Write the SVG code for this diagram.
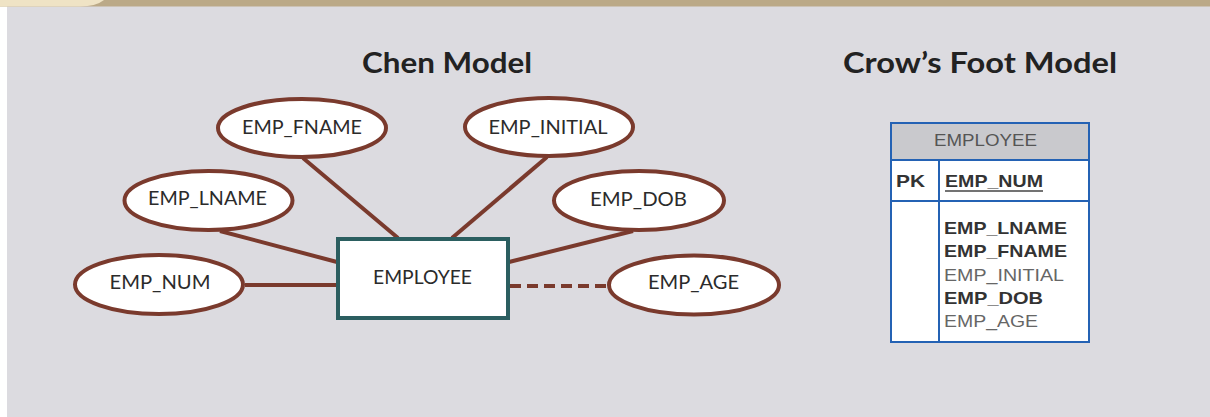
<svg xmlns="http://www.w3.org/2000/svg" width="1210" height="417" viewBox="0 0 1210 417">
<style>
.attr{fill:#fff;stroke:#7a3a2d;stroke-width:4}
.lbl{font-family:Lato,"Open Sans",sans-serif;font-size:19px;fill:#2b2b2b;text-anchor:middle}
.title{font-family:Lato,"Open Sans",sans-serif;font-size:29px;font-weight:bold;fill:#222;text-anchor:middle}
.conn{stroke:#7a3a2d;stroke-width:4;fill:none}
.tb{stroke:#2462b4;stroke-width:2;fill:none}
.cf{font-family:"Liberation Sans",Arial,sans-serif;font-size:17px}
.b{font-weight:bold;fill:#333}
.r{fill:#666}
</style>
<rect x="0" y="0" width="1210" height="417" fill="#ffffff"/>
<rect x="7" y="6" width="1203" height="411" fill="#dcdbe0"/>
<rect x="0" y="0" width="1210" height="6.5" fill="#bba987"/>
<path d="M0,0 H104 Q96,6.5 80,6.5 H0 Z" fill="#efe3c5"/>

<text class="title" x="447" y="73" textLength="170" lengthAdjust="spacingAndGlyphs">Chen Model</text>
<text class="title" x="980" y="73" textLength="274" lengthAdjust="spacingAndGlyphs">Crow’s Foot Model</text>

<g id="connectors">
<line class="conn" x1="303" y1="158" x2="398" y2="238"/>
<line class="conn" x1="547" y1="157" x2="452" y2="238"/>
<line class="conn" x1="220" y1="231" x2="337" y2="262"/>
<line class="conn" x1="245" y1="285" x2="337" y2="285"/>
<line class="conn" x1="633" y1="231" x2="509" y2="262"/>
<line class="conn" x1="510" y1="286" x2="608" y2="286" stroke-dasharray="11 6"/>
</g>

<g id="EMP_FNAME"><ellipse class="attr" cx="302" cy="128" rx="84" ry="29"/><text class="lbl" x="302" y="134" textLength="120" lengthAdjust="spacingAndGlyphs">EMP_FNAME</text></g>
<g id="EMP_INITIAL"><ellipse class="attr" cx="549" cy="127" rx="84" ry="29"/><text class="lbl" x="548" y="134" textLength="119" lengthAdjust="spacingAndGlyphs">EMP_INITIAL</text></g>
<g id="EMP_LNAME"><ellipse class="attr" cx="208.5" cy="200.5" rx="84" ry="29.5"/><text class="lbl" x="207.5" y="205" textLength="119" lengthAdjust="spacingAndGlyphs">EMP_LNAME</text></g>
<g id="EMP_DOB"><ellipse class="attr" cx="639" cy="200.5" rx="85" ry="29.5"/><text class="lbl" x="638.5" y="206" textLength="97" lengthAdjust="spacingAndGlyphs">EMP_DOB</text></g>
<g id="EMP_NUM"><ellipse class="attr" cx="159" cy="284.5" rx="84" ry="29.5"/><text class="lbl" x="160" y="289" textLength="101" lengthAdjust="spacingAndGlyphs">EMP_NUM</text></g>
<g id="EMP_AGE"><ellipse class="attr" cx="694" cy="285" rx="85" ry="29.5"/><text class="lbl" x="693.5" y="289" textLength="91" lengthAdjust="spacingAndGlyphs">EMP_AGE</text></g>

<g id="EMPLOYEE"><rect x="338" y="239" width="170" height="79" fill="#fff" stroke="#2b5e60" stroke-width="4"/><text class="lbl" x="422.5" y="284" textLength="99" lengthAdjust="spacingAndGlyphs">EMPLOYEE</text></g>

<g id="crowsfoot_EMPLOYEE">
<rect x="891" y="123" width="198" height="37" fill="#c9c9cd"/>
<rect x="891" y="160" width="198" height="183" fill="#fff"/>
<rect class="tb" x="891" y="123" width="198" height="219"/>
<line class="tb" x1="891" y1="160" x2="1089" y2="160"/>
<line class="tb" x1="891" y1="201" x2="1089" y2="201"/>
<line class="tb" x1="939" y1="160" x2="939" y2="342"/>
<text class="cf" x="934" y="146" fill="#555" textLength="103" lengthAdjust="spacingAndGlyphs">EMPLOYEE</text>
<text class="cf b" x="896" y="187" textLength="29" lengthAdjust="spacingAndGlyphs">PK</text>
<text class="cf b" x="945" y="187" textLength="98" lengthAdjust="spacingAndGlyphs">EMP_NUM</text>
<line x1="945" y1="191" x2="1043" y2="191" stroke="#444" stroke-width="1.5"/>
<text class="cf b" x="944" y="234" textLength="123" lengthAdjust="spacingAndGlyphs">EMP_LNAME</text>
<text class="cf b" x="944" y="257" textLength="123" lengthAdjust="spacingAndGlyphs">EMP_FNAME</text>
<text class="cf r" x="944" y="281" textLength="120" lengthAdjust="spacingAndGlyphs">EMP_INITIAL</text>
<text class="cf b" x="944" y="304" textLength="99" lengthAdjust="spacingAndGlyphs">EMP_DOB</text>
<text class="cf r" x="944" y="327" textLength="94" lengthAdjust="spacingAndGlyphs">EMP_AGE</text>
</g>
</svg>
